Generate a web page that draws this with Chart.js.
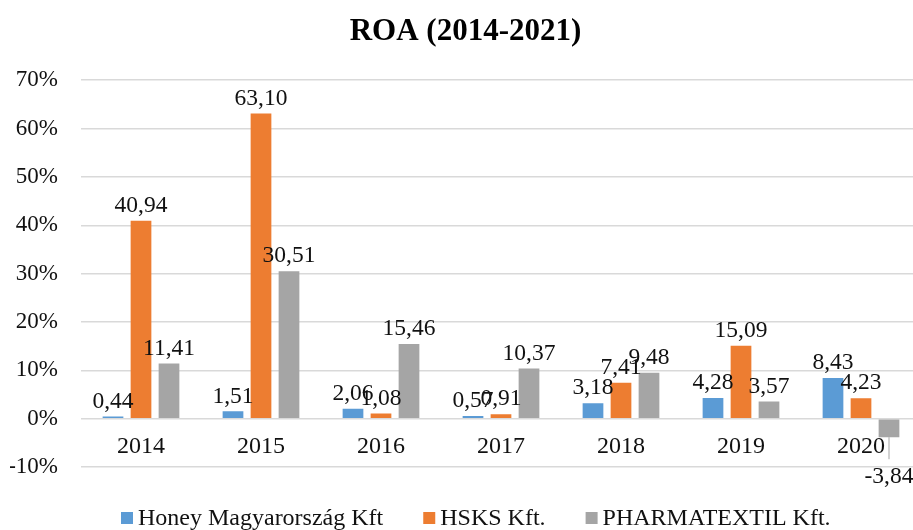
<!DOCTYPE html>
<html>
<head>
<meta charset="utf-8">
<script src="https://cdn.jsdelivr.net/npm/chart.js@4/dist/chart.umd.min.js"></script>
<style>
html,body{margin:0;padding:0;background:#fff;overflow:hidden;}
#wrap{width:913px;height:530px;overflow:hidden;}
</style>
</head>
<body>
<div id="wrap"><canvas id="c" width="930" height="530"></canvas></div>
<script>
const years = ['2014','2015','2016','2017','2018','2019','2020'];
const honey = [0.44, 1.51, 2.06, 0.57, 3.18, 4.28, 8.43];
const hsks = [40.94, 63.10, 1.08, 0.91, 7.41, 15.09, 4.23];
const pharma = [11.41, 30.51, 15.46, 10.37, 9.48, 3.57, -3.84];
const seriesNames = ['Honey Magyarország Kft', 'HSKS Kft.', 'PHARMATEXTIL Kft.'];
const seriesColors = ['#5B9BD5', '#ED7D31', '#A5A5A5'];
const yTicks = [-10, 0, 10, 20, 30, 40, 50, 60, 70];

const FONT = "'Liberation Serif', 'Times New Roman', serif";
const fmt = v => v.toFixed(2).replace('.', ',');

const labelPlugin = {
  id: 'barLabels',
  afterDatasetsDraw(chart) {
    const ctx = chart.ctx;
    ctx.save();
    ctx.font = '23.5px ' + FONT;
    ctx.fillStyle = '#111';
    ctx.textAlign = 'center';
    ctx.textBaseline = 'middle';
    chart.data.datasets.forEach((ds, di) => {
      const meta = chart.getDatasetMeta(di);
      meta.data.forEach((el, i) => {
        const v = ds.data[i];
        const y = v >= 0 ? el.y - 15 : el.y + 40;
        if (v < 0) {
          ctx.strokeStyle = '#a5a5a5';
          ctx.lineWidth = 1;
          ctx.beginPath();
          ctx.moveTo(el.x, el.y);
          ctx.lineTo(el.x, el.y + 22);
          ctx.stroke();
        }
        ctx.fillText(fmt(v), el.x, y);
      });
    });
    ctx.restore();
  }
};

const legendPlugin = {
  id: 'bottomLegend',
  afterDraw(chart) {
    const ctx = chart.ctx;
    ctx.save();
    ctx.font = '24px ' + FONT;
    ctx.textBaseline = 'alphabetic';
    ctx.textAlign = 'left';
    const box = 12, gapText = 5, gapItem = 40, baseline = 525, boxTop = 512;
    let x = 121;
    chart.data.datasets.forEach((ds) => {
      ctx.fillStyle = ds.backgroundColor;
      ctx.fillRect(x, boxTop, box, box);
      ctx.fillStyle = '#111';
      ctx.fillText(ds.label, x + box + gapText, baseline);
      x += box + gapText + ctx.measureText(ds.label).width + gapItem;
    });
    ctx.restore();
  }
};

const mk = (i, data) => ({
  label: seriesNames[i], data, backgroundColor: seriesColors[i], borderWidth: 0,
  categoryPercentage: 0.7, barPercentage: 0.74
});

new Chart(document.getElementById('c'), {
  type: 'bar',
  data: {
    labels: years,
    datasets: [mk(0, honey), mk(1, hsks), mk(2, pharma)]
  },
  options: {
    responsive: false,
    animation: false,
    devicePixelRatio: 1,
    layout: { padding: { left: 10, right: 9, top: 0, bottom: 63 } },
    plugins: {
      title: {
        display: true, text: 'ROA (2014-2021)', color: '#000',
        font: { family: FONT, size: 31, weight: 'bold' },
        padding: { top: 13, bottom: 30 }
      },
      legend: { display: false },
      tooltip: { enabled: false }
    },
    scales: {
      x: {
        position: { y: 0 },
        grid: { display: false, drawTicks: false },
        border: { display: false },
        ticks: { color: '#111', font: { family: FONT, size: 24 }, padding: 14 }
      },
      y: {
        min: -10, max: 70,
        afterBuildTicks: s => { s.ticks = yTicks.map(v => ({ value: v })); },
        afterFit: s => { s.width = 71; },
        grid: { color: '#d9d9d9', lineWidth: 1.5, drawTicks: false },
        border: { display: false },
        ticks: { color: '#111', font: { family: FONT, size: 23 }, padding: 23, callback: v => v + '%' }
      }
    }
  },
  plugins: [labelPlugin, legendPlugin]
});
</script>
</body>
</html>
